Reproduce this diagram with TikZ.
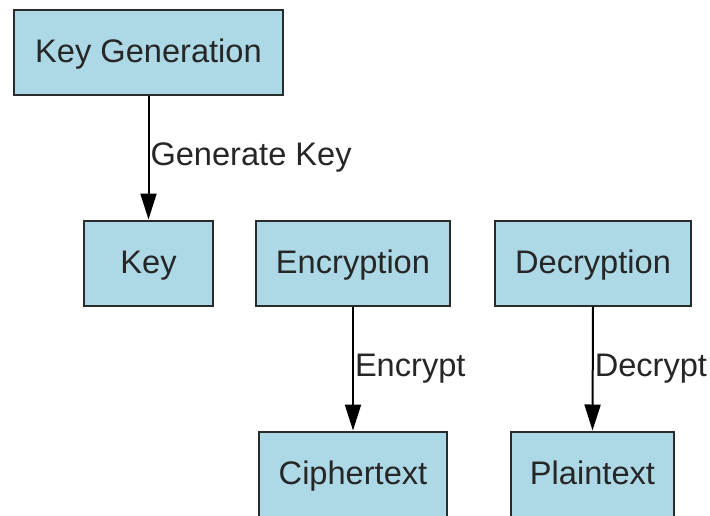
\documentclass[tikz,border=0pt]{standalone}
\usepackage{fontspec}
\setmainfont{Liberation Sans}
\usetikzlibrary{arrows.meta}
\definecolor{boxblue}{HTML}{ADD8E6}
\definecolor{boxline}{HTML}{2B2B2B}
\begin{document}
\begin{tikzpicture}[x=1pt,y=-1pt,font=\fontsize{32.6}{39}\selectfont,
    every node/.style={text=black!85},
    stage/.style={draw=boxline,fill=boxblue,line width=2pt,inner sep=0pt,minimum height=85pt,
      text height=23pt,text depth=2.6pt},
    flow/.style={-{Triangle[length=26pt,width=16pt]},line width=2pt,black}]
    \useasboundingbox (0,0) rectangle (710,515);
    \node[stage,minimum width=269pt] (keygen) at (148.5, 52.5) {Key Generation};
    \node[stage,minimum width=129pt] (key) at (148.5, 263) {Key};
    \node[stage,minimum width=194pt] (enc) at (353, 263) {Encryption};
    \node[stage,minimum width=196pt] (dec) at (593, 263) {Decryption};
    \node[stage,minimum width=188pt] (cipher) at (353, 474) {Ciphertext};
    \node[stage,minimum width=163pt] (plain) at (592.5, 474) {Plaintext};
    \draw[flow] (keygen.south) -- node[anchor=west,inner sep=1pt] {Generate Key} (key.north);
    \draw[flow] (enc.south) -- node[anchor=west,inner sep=1pt] {Encrypt} (cipher.north);
    \draw[flow] (dec.south) -- node[anchor=west,inner sep=1pt] {Decrypt} (plain.north);
  \end{tikzpicture}
\end{document}
